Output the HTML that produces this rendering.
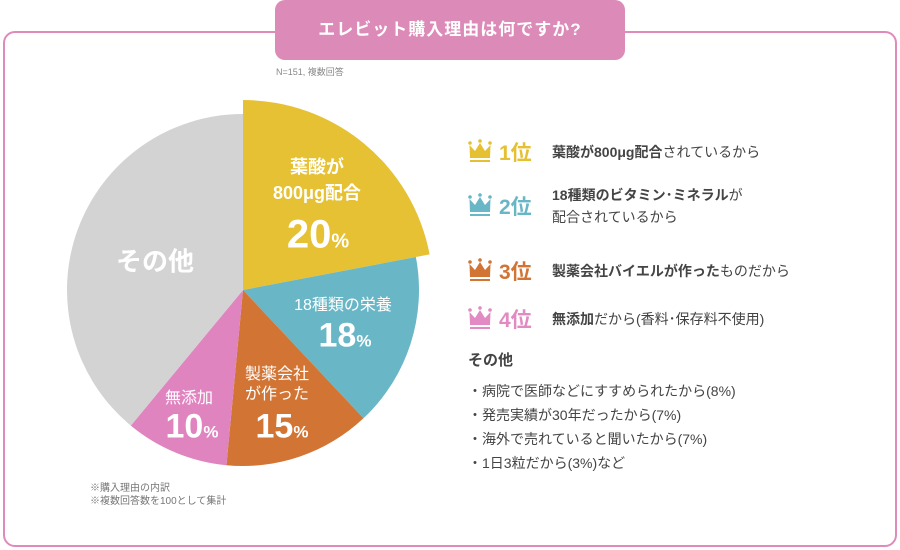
<!DOCTYPE html>
<html><head><meta charset="utf-8">
<style>
body{margin:0;width:900px;height:550px;background:#fff;font-family:"Liberation Sans","Noto Sans CJK JP",sans-serif;color:#444;position:relative;overflow:hidden}
.a{position:absolute;white-space:nowrap}
.c{transform:translate(-50%,-50%)}
.w{color:#fff}
.rank{position:absolute;left:468px;display:flex;align-items:center}
.rank .n{font-size:21px;font-weight:600;margin-left:7px;width:53px}
.rank .t{font-size:14px;line-height:22px;color:#444}
b{font-weight:bold}
.oth{position:absolute;left:468px;font-size:14px;color:#444}
</style></head><body>
<div class="a" style="left:3px;top:31px;width:890px;height:512px;border:2px solid #df8abb;border-radius:12px"></div>
<div class="a" style="left:275px;top:0;width:350px;height:60px;background:#dc8ab8;border-radius:10px;color:#fff;font-size:17px;font-weight:bold;text-align:center;line-height:60px;letter-spacing:1px">エレビット購入理由は何ですか?</div>
<div class="a" style="left:276px;top:65px;font-size:9px;color:#888">N=151, 複数回答</div>

<svg id="pie" class="a" style="left:0;top:0" width="460" height="550"></svg>

<div class="a c w" style="left:155px;top:260px;font-size:26px;font-weight:bold">その他</div>
<div class="a c w" style="left:317px;top:180px;font-size:18px;font-weight:bold;text-align:center;line-height:26px">葉酸が<br>800μg配合</div>
<div class="a c w" style="left:318px;top:235px;font-size:40px;font-weight:bold">20<span style="font-size:20px">%</span></div>
<div class="a c w" style="left:343px;top:303px;font-size:16px">18種類の栄養</div>
<div class="a c w" style="left:345px;top:336px;font-size:34px;font-weight:bold">18<span style="font-size:17px">%</span></div>
<div class="a c w" style="left:277px;top:385px;font-size:16px;text-align:center;line-height:20px">製薬会社<br>が作った</div>
<div class="a c w" style="left:282px;top:427px;font-size:34px;font-weight:bold">15<span style="font-size:17px">%</span></div>
<div class="a c w" style="left:189px;top:396px;font-size:16px">無添加</div>
<div class="a c w" style="left:192px;top:427px;font-size:34px;font-weight:bold">10<span style="font-size:17px">%</span></div>
<div class="a" style="left:90px;top:482px;font-size:10px;color:#777;line-height:13px">※購入理由の内訳<br>※複数回答数を100として集計</div>

<div class="rank" style="top:137px"><svg width="24" height="26" viewBox="0 0 24 26"><circle cx="2" cy="4" r="1.8" fill="#e6c033"/><circle cx="12" cy="2" r="1.8" fill="#e6c033"/><circle cx="22" cy="4" r="1.8" fill="#e6c033"/><path d="M2 19 L1.5 6 L7 12 L12 4 L17 12 L22.5 6 L22 19Z" fill="#e6c033"/><rect x="2" y="21" width="20" height="2" fill="#e6c033"/></svg><span class="n" style="color:#e6c033">1位</span><span class="t"><b>葉酸が800μg配合</b>されているから</span></div>
<div class="rank" style="top:184px"><svg width="24" height="26" viewBox="0 0 24 26"><circle cx="2" cy="4" r="1.8" fill="#68b6c6"/><circle cx="12" cy="2" r="1.8" fill="#68b6c6"/><circle cx="22" cy="4" r="1.8" fill="#68b6c6"/><path d="M2 19 L1.5 6 L7 12 L12 4 L17 12 L22.5 6 L22 19Z" fill="#68b6c6"/><rect x="2" y="21" width="20" height="2" fill="#68b6c6"/></svg><span class="n" style="color:#68b6c6">2位</span><span class="t"><b>18種類のビタミン･ミネラル</b>が<br>配合されているから</span></div>
<div class="rank" style="top:256px"><svg width="24" height="26" viewBox="0 0 24 26"><circle cx="2" cy="4" r="1.8" fill="#d27433"/><circle cx="12" cy="2" r="1.8" fill="#d27433"/><circle cx="22" cy="4" r="1.8" fill="#d27433"/><path d="M2 19 L1.5 6 L7 12 L12 4 L17 12 L22.5 6 L22 19Z" fill="#d27433"/><rect x="2" y="21" width="20" height="2" fill="#d27433"/></svg><span class="n" style="color:#d27433">3位</span><span class="t"><b>製薬会社バイエルが作った</b>ものだから</span></div>
<div class="rank" style="top:304px"><svg width="24" height="26" viewBox="0 0 24 26"><circle cx="2" cy="4" r="1.8" fill="#e18ac3"/><circle cx="12" cy="2" r="1.8" fill="#e18ac3"/><circle cx="22" cy="4" r="1.8" fill="#e18ac3"/><path d="M2 19 L1.5 6 L7 12 L12 4 L17 12 L22.5 6 L22 19Z" fill="#e18ac3"/><rect x="2" y="21" width="20" height="2" fill="#e18ac3"/></svg><span class="n" style="color:#e18ac3">4位</span><span class="t"><b>無添加</b>だから(香料･保存料不使用)</span></div>
<div class="oth" style="top:349px;font-size:15px;font-weight:bold">その他</div>
<div class="oth" style="top:381px">・病院で医師などにすすめられたから(8%)</div>
<div class="oth" style="top:405px">・発売実績が30年だったから(7%)</div>
<div class="oth" style="top:429px">・海外で売れていると聞いたから(7%)</div>
<div class="oth" style="top:453px">・1日3粒だから(3%)など</div>

<script>
const categories = ["folic", "nutrients", "maker", "additive", "other"];
const values = [22, 16, 13.5, 9.5, 39];
const colors = ["#e6c134", "#68b6c6", "#d27433", "#e084c0", "#d3d3d3"];
const radii = [190, 176, 176, 176, 176];
const cx = 243, cy = 290;
const svg = document.getElementById('pie');
const total = values.reduce((a, b) => a + b, 0);
function pt(a, r) { return [cx + r * Math.sin(a), cy - r * Math.cos(a)]; }
let acc = 0;
values.forEach((v, i) => {
  const a0 = acc / total * 2 * Math.PI;
  acc += v;
  const a1 = acc / total * 2 * Math.PI;
  const r = radii[i];
  const p0 = pt(a0, r), p1 = pt(a1, r);
  const large = (a1 - a0) > Math.PI ? 1 : 0;
  const path = document.createElementNS('http://www.w3.org/2000/svg', 'path');
  path.setAttribute('d', `M${cx},${cy} L${p0[0]},${p0[1]} A${r},${r} 0 ${large} 1 ${p1[0]},${p1[1]} Z`);
  path.setAttribute('fill', colors[i]);
  
  
  svg.appendChild(path);
});
</script>
</body></html>
